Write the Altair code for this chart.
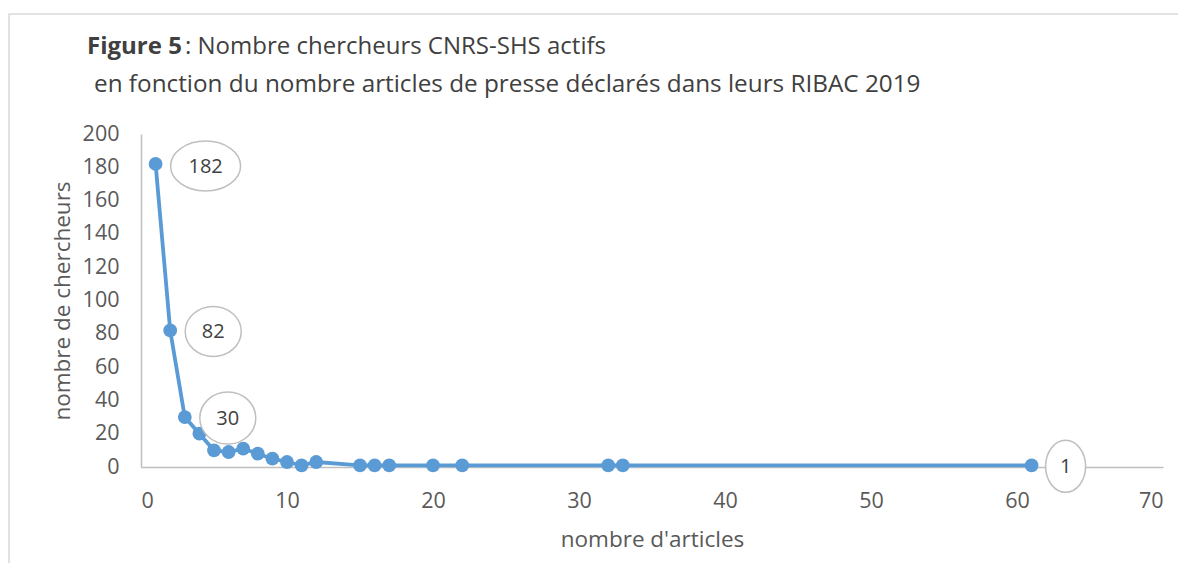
import altair as alt
import pandas as pd

# ---- data ----
articles = [1, 2, 3, 4, 5, 6, 7, 8, 9, 10, 11, 12, 15, 16, 17, 20, 22, 32, 33, 61]
chercheurs = [182, 82, 30, 20, 10, 9, 11, 8, 5, 3, 1, 3, 1, 1, 1, 1, 1, 1, 1, 1]

label_x = [1, 2, 3, 61]
label_y = [182, 82, 30, 1]
label_text = ["182", "82", "30", "1"]

x_ticks = [0, 10, 20, 30, 40, 50, 60, 70]
y_ticks = [0, 20, 40, 60, 80, 100, 120, 140, 160, 180, 200]

title_bold = "Figure 5"
title_rest = ": Nombre chercheurs CNRS-SHS actifs"
title_line2 = "en fonction du nombre articles de presse déclarés dans leurs RIBAC 2019"
x_title = "nombre d'articles"
y_title = "nombre de chercheurs"

# ---- styles ----
FONT = "Open Sans"
BLUE = "#5b9bd5"
GREY_TXT = "#595959"
AXIS_GREY = "#bfbfbf"
W, H = 1022, 333
label_dx = [50, 43, 43, 34]
label_dy = [2, 1, 1, 1]
ell_w = [70, 56, 56, 40]
ell_h = [50, 50, 52, 52]

df = pd.DataFrame({"articles": articles, "chercheurs": chercheurs})

xs = alt.Scale(domain=[0, 70], nice=False, zero=True)
ys = alt.Scale(domain=[0, 200], nice=False)

x_axis = alt.Axis(values=x_ticks, ticks=False, grid=False,
                  domainColor=AXIS_GREY, domainWidth=1.5, labelFont=FONT,
                  labelFontSize=21.5, labelColor=GREY_TXT, labelPadding=23,
                  labelOverlap=False,
                  titleFont=FONT, titleFontSize=22.5, titleFontWeight="normal",
                  titleColor=GREY_TXT, titlePadding=17)
y_axis = alt.Axis(values=y_ticks, ticks=False, grid=False,
                  domainColor=AXIS_GREY, domainWidth=1.5, labelFont=FONT,
                  labelFontSize=21.5, labelColor=GREY_TXT, labelPadding=22,
                  labelOverlap=False, labelBound=False, labelFlush=False,
                  titleFont=FONT, titleFontSize=22.5, titleFontWeight="normal",
                  titleColor=GREY_TXT, titlePadding=8)


def xe():
    return alt.X("articles:Q", scale=xs, title=x_title, axis=x_axis)


def ye():
    return alt.Y("chercheurs:Q", scale=ys, title=y_title, axis=y_axis)


base = alt.Chart(df)

line = base.mark_line(color=BLUE, strokeWidth=3.8).encode(x=xe(), y=ye())
pts = base.mark_point(filled=True, color=BLUE, size=190, opacity=1).encode(x=xe(), y=ye())


def ellipse_path(r):
    k = 0.5523
    return (f"M -1 0 C -1 {-k*r:.4f} {-k:.4f} {-r:.4f} 0 {-r:.4f} "
            f"C {k:.4f} {-r:.4f} 1 {-k*r:.4f} 1 0 "
            f"C 1 {k*r:.4f} {k:.4f} {r:.4f} 0 {r:.4f} "
            f"C {-k:.4f} {r:.4f} -1 {k*r:.4f} -1 0 Z")


layers = [line, pts]
for lx, ly, lt, dx, dy, w, h in zip(label_x, label_y, label_text, label_dx, label_dy, ell_w, ell_h):
    d = alt.Data(values=[{"articles": lx, "chercheurs": ly, "label": lt}])
    ell = alt.Chart(d).mark_point(
        shape=ellipse_path(h / w), size=w * w, filled=True, fill="white",
        stroke=AXIS_GREY, strokeWidth=1.5, opacity=1, xOffset=dx, yOffset=dy,
    ).encode(x=xe(), y=ye())
    txt = alt.Chart(d).mark_text(
        font=FONT, fontSize=20, color="#404040", dx=dx, dy=dy + 1, baseline="middle",
        align="center",
    ).encode(x=xe(), y=ye(), text="label:N")
    layers += [ell, txt]

one = alt.Data(values=[{"a": 1}])
frame = alt.Chart(one).mark_rect(fillOpacity=0, stroke="#d9d9d9", strokeWidth=1.5).encode(
    x=alt.value(-132), x2=alt.value(1200), y=alt.value(-120), y2=alt.value(700)
)
t1 = alt.Chart(one).mark_text(font=FONT, fontSize=24, fontWeight="bold", color="#404040",
                              align="left", baseline="middle").encode(
    x=alt.value(-54), y=alt.value(-87), text=alt.value(title_bold))
t2 = alt.Chart(one).mark_text(font=FONT, fontSize=24, color="#404040",
                              align="left", baseline="middle").encode(
    x=alt.value(44), y=alt.value(-87), text=alt.value(title_rest))
t3 = alt.Chart(one).mark_text(font=FONT, fontSize=24.3, color="#404040",
                              align="left", baseline="middle").encode(
    x=alt.value(-47), y=alt.value(-49), text=alt.value(title_line2))

chart = alt.layer(*layers, frame, t1, t2, t3).properties(
    width=W, height=H,
    background="white",
    autosize=alt.AutoSizeParams(type="none"),
    padding={"left": 133, "top": 126, "right": 15, "bottom": 96},
).configure_view(strokeWidth=0).configure_axis(labelOverlap=False)

chart.save("out.html", embed_options={"renderer": "svg", "actions": False})
